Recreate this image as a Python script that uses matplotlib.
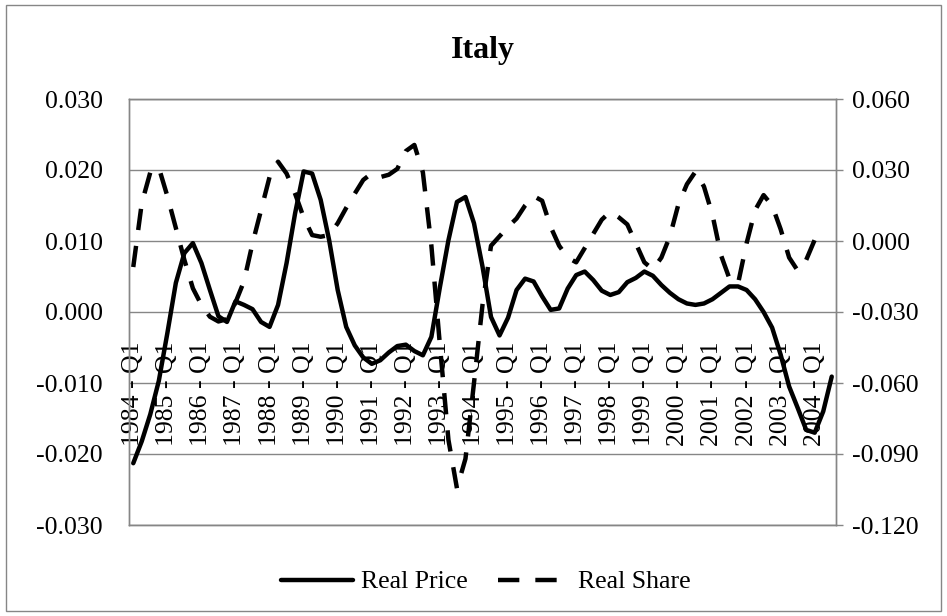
import matplotlib
matplotlib.use("Agg")
import matplotlib.pyplot as plt
import matplotlib.transforms as mtransforms
from matplotlib.patches import Rectangle
from matplotlib.ticker import FuncFormatter
import numpy as np

plt.rcParams['font.family'] = ['Liberation Serif', 'DejaVu Serif']
plt.rcParams['axes.unicode_minus'] = False

# quarterly data, 1984 Q1 .. 2004 Q3
years = list(range(1984, 2005))
tick_labels = [f"{y} - Q1" for y in years]

real_price = [
    -0.0213, -0.0182, -0.0144, -0.0097,   # 1984
    -0.0030, 0.0041, 0.0083, 0.0097,      # 1985
    0.0069, 0.0031, -0.0006, -0.0014,     # 1986
    0.0015, 0.0010, 0.0004, -0.0014,      # 1987
    -0.0021, 0.0010, 0.0069, 0.0139,      # 1988
    0.0198, 0.0195, 0.0158, 0.0101,       # 1989
    0.0031, -0.0021, -0.0047, -0.0064,    # 1990
    -0.0073, -0.0068, -0.0057, -0.0048,   # 1991
    -0.0046, -0.0055, -0.0061, -0.0035,   # 1992
    0.0035, 0.0101, 0.0155, 0.0162,       # 1993
    0.0125, 0.0064, -0.0007, -0.0033,     # 1994
    -0.0008, 0.0031, 0.0047, 0.0043,      # 1995
    0.0022, 0.0003, 0.0005, 0.0033,       # 1996
    0.0052, 0.0057, 0.0045, 0.0030,       # 1997
    0.0024, 0.0028, 0.0042, 0.0048,       # 1998
    0.0057, 0.0051, 0.0038, 0.0027,       # 1999
    0.0018, 0.0012, 0.0010, 0.0012,       # 2000
    0.0018, 0.0027, 0.0036, 0.0036,       # 2001
    0.0031, 0.0018, 0.0000, -0.0022,      # 2002
    -0.0060, -0.0105, -0.0135, -0.0166,   # 2003
    -0.0170, -0.0140, -0.0091,            # 2004
]

real_share = [
    -0.011, 0.016, 0.029, 0.031,          # 1984
    0.019, 0.0055, -0.008, -0.020,        # 1985
    -0.027, -0.032, -0.034, -0.033,       # 1986
    -0.026, -0.017, -0.001, 0.013,        # 1987
    0.027, 0.0335, 0.0285, 0.020,         # 1988
    0.010, 0.0025, 0.0018, 0.0025,        # 1989
    0.0075, 0.014, 0.020, 0.0258,         # 1990
    0.0286, 0.027, 0.028, 0.0305,         # 1991
    0.038, 0.0406, 0.029, -0.002,         # 1992
    -0.044, -0.084, -0.1045, -0.092,      # 1993
    -0.060, -0.027, -0.002, 0.002,        # 1994
    0.006, 0.0095, 0.015, 0.019,          # 1995
    0.017, 0.006, -0.002, -0.007,         # 1996
    -0.009, -0.003, 0.003, 0.009,         # 1997
    0.0124, 0.010, 0.007, -0.001,         # 1998
    -0.009, -0.012, -0.007, 0.002,        # 1999
    0.0155, 0.024, 0.0293, 0.023,         # 2000
    0.011, -0.006, -0.016, -0.018,        # 2001
    -0.001, 0.013, 0.0194, 0.015,         # 2002
    0.005, -0.007, -0.0125, -0.008,       # 2003
    0.0005,                               # 2004
]

grey = '#868686'
fs = 18.5

fig = plt.figure(figsize=(9.47, 6.16), dpi=100)
ax = fig.add_axes([129/947, 1 - 525/616, (836 - 129)/947, (525 - 99)/616])
ax2 = ax.twinx()

x_price = np.arange(len(real_price))
x_share = np.arange(len(real_share))

ax.plot(x_price, real_price, color='black', lw=3.2, solid_joinstyle='round',
        solid_capstyle='round', label='Real Price', zorder=3)
ax2.plot(x_share, real_share, color='black', lw=3.2, dashes=(4.8, 3.6),
         dash_capstyle='butt', label='Real Share', zorder=3)

fmt = FuncFormatter(lambda v, p: f"{v:.3f}".replace('\u2212', '-'))
ax.set_xlim(-0.5, len(real_price) - 0.5)
ax.set_ylim(-0.03, 0.03)
ax.set_yticks(np.arange(-0.03, 0.0301, 0.01))
ax2.set_ylim(-0.12, 0.06)
ax2.set_yticks(np.arange(-0.12, 0.0601, 0.03))
ax.yaxis.set_major_formatter(fmt)
ax2.yaxis.set_major_formatter(fmt)
ax.set_xticks([])

ax.grid(axis='y', color=grey, lw=1.0)
ax.set_axisbelow(True)
for a in (ax, ax2):
    for s in a.spines.values():
        s.set_color(grey)
        s.set_linewidth(1.0)
ax.tick_params(axis='y', length=0, pad=19, labelsize=fs)
ax2.tick_params(axis='y', length=5, width=1.0, color=grey, pad=6.5, labelsize=fs)

# category labels sit on the -0.010 gridline
lab_tr = mtransforms.offset_copy(ax.transData, fig=fig, y=-11, units='dots')
for k, lab in enumerate(tick_labels):
    ax.text(4 * k, -0.010, lab, rotation=90, ha='center', va='center',
            fontsize=fs, transform=lab_tr, zorder=2)

ax.set_title('Italy', fontsize=23, fontweight='bold', pad=29.5)

h1, l1 = ax.get_legend_handles_labels()
h2, l2 = ax2.get_legend_handles_labels()
fig.legend(h1 + h2, l1 + l2, loc='center', bbox_to_anchor=(486/947, 1 - 582/616),
           ncol=2, frameon=False, fontsize=fs, handlelength=2.8,
           handletextpad=0.3, columnspacing=1.2)

fig.patches.append(Rectangle((6/947, 5/616), 935/947, 606/616, transform=fig.transFigure,
                             fill=False, edgecolor=grey, lw=1.0))

fig.savefig('out.png', dpi=100)
